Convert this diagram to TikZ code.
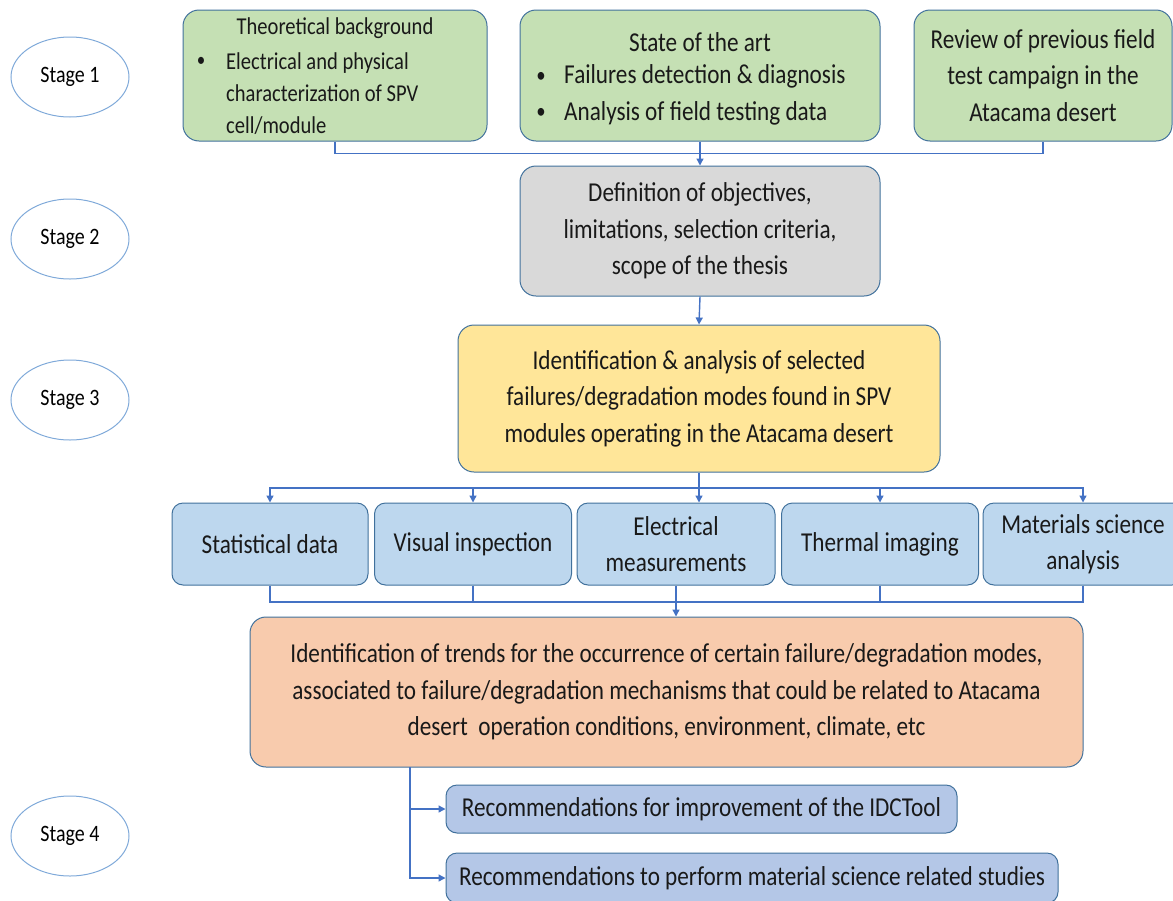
\documentclass[tikz,border=0pt]{standalone}
\usepackage{fontspec}
\setmainfont{Carlito}[FakeStretch=0.85]
\usetikzlibrary{arrows.meta,shapes.geometric}
\definecolor{gfill}{HTML}{C5E0B4}
\definecolor{grfill}{HTML}{D9D9D9}
\definecolor{yfill}{HTML}{FFE699}
\definecolor{bfill}{HTML}{BDD7EE}
\definecolor{ofill}{HTML}{F8CBAD}
\definecolor{b2fill}{HTML}{B4C7E7}
\definecolor{bline}{HTML}{41719C}
\definecolor{conncol}{HTML}{4472C4}
\definecolor{ellcol}{HTML}{7FA9D9}
\begin{document}
\begin{tikzpicture}[x=1pt,y=-1pt,
  box/.style={draw=bline, line width=1pt, rounded corners=16pt, align=center, inner sep=0pt, text=black!90, font=\fontsize{27.3}{36.5}\selectfont},
  sbox/.style={box, rounded corners=11pt},
  txt/.style={inner sep=0pt, text=black!90, font=\fontsize{27.3}{36.5}\selectfont},
  stage/.style={ellipse, draw=ellcol, line width=1pt, minimum width=118, minimum height=80, inner sep=0pt, font=\fontsize{23.5}{26}\selectfont},
  conn/.style={draw=conncol, line width=1.4pt},
  arr/.style={conn, -{Triangle[length=7pt,width=7pt]}}]
\useasboundingbox (0,0) rectangle (1173,900);
% stages
\node[stage] (s1) at (70,77) {Stage 1};
\node[stage] (s2) at (70,239) {Stage 2};
\node[stage] (s3) at (70,400) {Stage 3};
\node[stage] (s4) at (70,836) {Stage 4};
% top row
\node[box, fill=gfill, minimum width=304, minimum height=131] (a) at (335,75.5) {};
\node[txt, font=\fontsize{24.2}{32}\selectfont] (at) at (335,28) {Theoretical background};
\node[txt, font=\fontsize{20}{32}\selectfont] (ab) at (201,62) {\textbullet};
\node[txt, anchor=west, align=left, font=\fontsize{24.2}{32}\selectfont] (al) at (226,94) {Electrical and physical\\characterization of SPV\\cell/module};
\node[box, fill=gfill, minimum width=360, minimum height=131] (b) at (700,75.5) {};
\node[txt] (bt) at (700,42) {State of the art};
\node[txt, font=\fontsize{22}{32}\selectfont] (bb1) at (541,77) {\textbullet};
\node[txt, font=\fontsize{22}{32}\selectfont] (bb2) at (541,113) {\textbullet};
\node[txt, anchor=west, align=left] (bl) at (564,95) {Failures detection \& diagnosis\\Analysis of field testing data};
\node[box, fill=gfill, minimum width=258, minimum height=131] (c) at (1043,75.5) {Review of previous field\\test campaign in the\\Atacama desert};
% stage 2
\node[box, fill=grfill, minimum width=360, minimum height=130] (d) at (700,231) {Definition of objectives,\\limitations, selection criteria,\\scope of the thesis};
% stage 3
\node[box, fill=yfill, minimum width=482, minimum height=147] (e) at (699,398.5) {Identification \& analysis of selected\\failures/degradation modes found in SPV\\modules operating in the Atacama desert};
% methods row
\node[sbox, fill=bfill, minimum width=196, minimum height=82] (v1) at (270,544) {Statistical data};
\node[sbox, fill=bfill, minimum width=197, minimum height=82] (v2) at (473,544) {Visual inspection};
\node[sbox, fill=bfill, minimum width=198, minimum height=82] (v3) at (676,544) {Electrical\\measurements};
\node[sbox, fill=bfill, minimum width=197, minimum height=82] (v4) at (880,544) {Thermal imaging};
\node[sbox, fill=bfill, minimum width=200, minimum height=82] (v5) at (1083,544) {Materials science\\analysis};
% orange
\node[box, fill=ofill, minimum width=833, minimum height=150] (f) at (666.5,692) {Identification of trends for the occurrence of certain failure/degradation modes,\\associated to failure/degradation mechanisms that could be related to Atacama\\desert\ \ operation conditions, environment, climate, etc};
% stage 4
\node[sbox, fill=b2fill, minimum width=511, minimum height=48] (g) at (701.5,809) {Recommendations for improvement of the IDCTool};
\node[sbox, fill=b2fill, minimum width=612, minimum height=50] (h) at (752,878) {Recommendations to perform material science related studies};
% connectors
\draw[conn] (a.south) -- ++(0,12) coordinate (j1) -| (c.south);
\draw[arr] (b.south) -- (d.north);
\draw[arr] (d.south) -- (e.north);
\coordinate (j2) at (700,488);
\draw[arr] (e.south) -- (e.south |- v3.north);
\draw[arr] (j2) -| (v1.north);
\draw[arr] (j2) -| (v2.north);
\draw[arr] (j2) -| (v4.north);
\draw[arr] (j2) -| (v5.north);
\coordinate (j3) at (676,602);
\draw[conn] (v1.south) |- (j3);
\draw[conn] (v2.south) -- (v2.south |- j3);
\draw[conn] (v4.south) -- (v4.south |- j3);
\draw[conn] (v5.south) |- (j3);
\draw[arr] (v3.south) -- (v3.south |- f.north);
\coordinate (j4) at (410,767);
\draw[arr] (j4) |- (g.west);
\draw[arr] (j4) |- (h.west);
\end{tikzpicture}
\end{document}
